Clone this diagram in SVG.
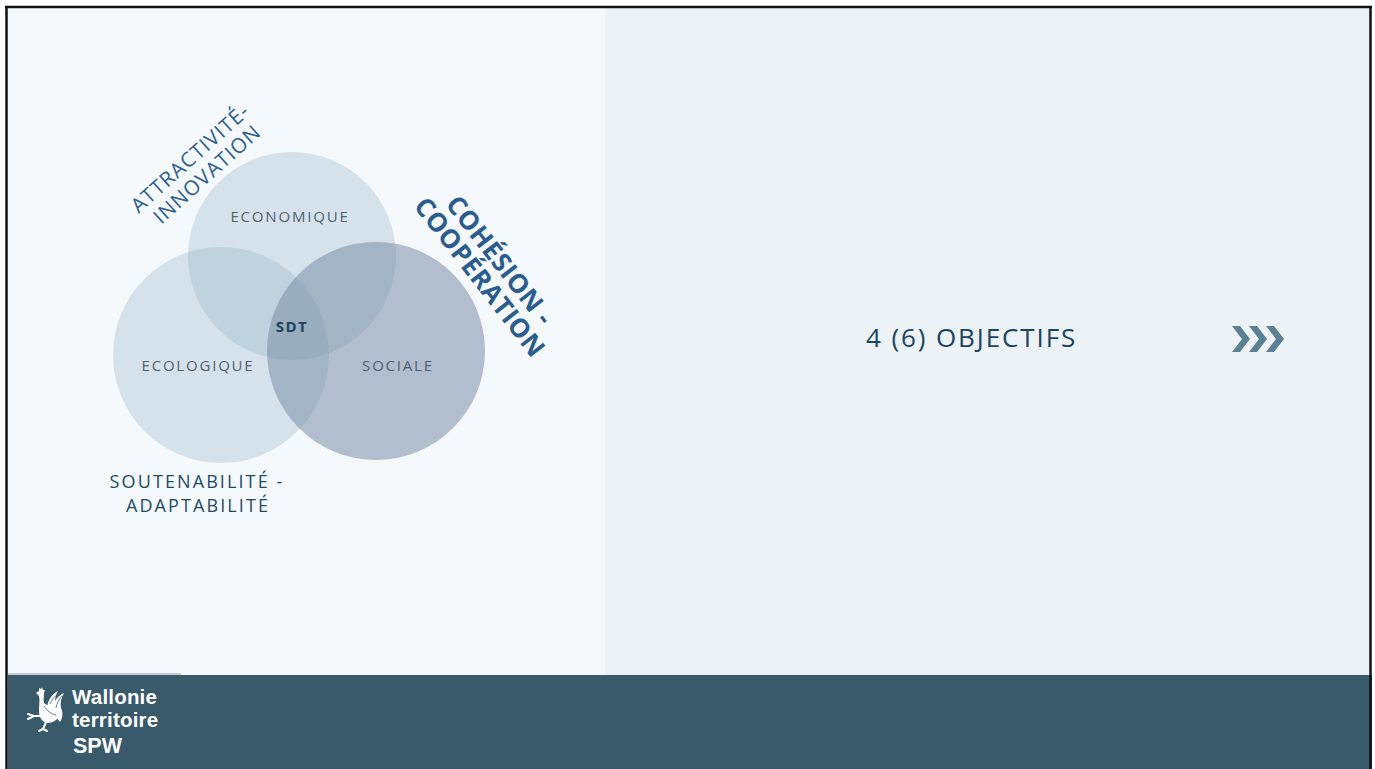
<svg xmlns="http://www.w3.org/2000/svg" width="1375" height="769" viewBox="0 0 1375 769">
<style>
.lbl{font-family:"Open Sans","Liberation Sans",sans-serif;font-size:15px;letter-spacing:1.8px;fill:#4d6372;text-anchor:middle}
.sdt{font-family:"Open Sans","Liberation Sans",sans-serif;font-size:15px;font-weight:bold;letter-spacing:1.5px;fill:#1c4360;text-anchor:middle}
.pillar{font-family:"Open Sans","Liberation Sans",sans-serif;font-size:18px;letter-spacing:2.1px;fill:#1e4a64;text-anchor:middle}
.attr{font-family:"Open Sans","Liberation Sans",sans-serif;font-size:20.5px;letter-spacing:1px;fill:#2e5f90;text-anchor:middle}
.coh{font-family:"Open Sans","Liberation Sans",sans-serif;font-size:26px;font-weight:bold;letter-spacing:0.4px;fill:#2c5d8f;text-anchor:middle}
.obj{font-family:"Open Sans","Liberation Sans",sans-serif;font-size:26px;letter-spacing:1.9px;fill:#1a4560}
.logo{font-family:"Liberation Sans",Arial,sans-serif;font-weight:bold;fill:#ffffff}
.c1{fill:#86a8bf;fill-opacity:0.28}
.c2{fill:#7a8ea6;fill-opacity:0.55}
.chev{fill:#5b8094}
.leg{stroke:#ffffff;stroke-width:2;fill:none;stroke-linecap:round}
</style>
<rect x="0" y="0" width="1375" height="769" fill="#ffffff"/>
<rect x="8" y="8" width="597" height="667" fill="#f5f9fc"/>
<rect x="605" y="8" width="765" height="667" fill="#edf2f6"/>
<rect x="8" y="673" width="173" height="2" fill="#c3ccd3"/>
<rect x="8" y="675" width="1364" height="94" fill="#385a6b"/>
<g id="border" stroke="#111111" stroke-width="2.5" fill="none">
<line x1="5" y1="7" x2="1372" y2="7"/>
<line x1="6.5" y1="6" x2="6.5" y2="769"/>
<line x1="1370.5" y1="6" x2="1370.5" y2="769"/>
</g>
<g id="economique">
<circle class="c1" cx="292" cy="256" r="104"/>
<text class="lbl" x="290" y="222">ECONOMIQUE</text>
</g>
<g id="ecologique">
<circle class="c1" cx="221" cy="355" r="108"/>
<text class="lbl" x="198" y="371">ECOLOGIQUE</text>
</g>
<g id="sociale">
<circle class="c2" cx="376" cy="351" r="109"/>
<text class="lbl" x="398" y="371">SOCIALE</text>
</g>
<g id="sdt">
<text class="sdt" x="292" y="332">SDT</text>
</g>
<g id="attractivite">
<text class="attr" transform="translate(190,158) rotate(-42)" x="0" y="7.3">ATTRACTIVITÉ-</text>
<text class="attr" transform="translate(207,174) rotate(-42)" x="0" y="7.3">INNOVATION</text>
</g>
<g id="cohesion">
<text class="coh" transform="translate(500,260) rotate(52)" x="0" y="9.3">COHÉSION -</text>
<text class="coh" transform="translate(480,277) rotate(52)" x="0" y="9.3">COOPÉRATION</text>
</g>
<g id="soutenabilite">
<text class="pillar" x="197" y="488">SOUTENABILITÉ -</text>
<text class="pillar" x="198" y="512">ADAPTABILITÉ</text>
</g>
<g id="objectifs">
<text class="obj" x="866" y="347">4 (6) OBJECTIFS</text>
</g>
<g id="chevrons" class="chev">
<polygon points="1232,326 1240,326 1250,339 1240,352 1232,352 1242,339"/>
<polygon points="1249,326 1257,326 1267,339 1257,352 1249,352 1259,339"/>
<polygon points="1266,326 1274,326 1284,339 1274,352 1266,352 1276,339"/>
</g>
<g id="logo">
<g id="rooster" fill="#ffffff">
<path d="M36,693 L39,691 L39,688 L41,689 L42,687 L43,690 L45,690 L44,693 C44,697 43,700 44,703 C47,706 52,707 56,708 L60,714 C58,720 53,723 47,723 C42,722 39,717 39,711 C39,705 40,700 39,696 Z"/>
<path d="M47,707 C48,700 52,694 58,691 C56,695 55,698 55,701 C57,697 61,694 64,693 C61,698 60,703 61,708 C63,712 63,718 60,722 C57,718 53,714 50,712 Z"/>
<path class="leg" d="M42,716 L34,716 L28,714 M34,716 L28,719 M46,722 L43,729 L39,731 M43,729 L47,731"/>
<path d="M44,706 C47,711 51,714 56,715 M50,704 C52,699 55,696 58,694 M56,708 C57,703 59,699 62,696" stroke="#385a6b" stroke-width="0.8" fill="none"/>
</g>
<text class="logo" x="72" y="704" font-size="20.5" letter-spacing="0.2">Wallonie</text>
<text class="logo" x="72" y="727" font-size="20.5" letter-spacing="0.2">territoire</text>
<text class="logo" x="73" y="753" font-size="21.5">SPW</text>
</g>
</svg>
